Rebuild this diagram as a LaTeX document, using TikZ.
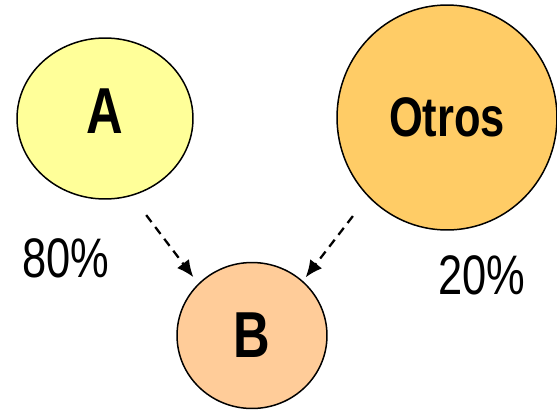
\documentclass[tikz,border=0pt]{standalone}
\usepackage{fontspec}
\setmainfont[FakeStretch=0.78]{Liberation Sans}
\usetikzlibrary{arrows.meta,shapes.geometric}
\definecolor{yellowA}{HTML}{FFFF99}
\definecolor{orangeO}{HTML}{FFCC66}
\definecolor{peachB}{HTML}{FFCC99}
\tikzset{
	blob/.style={ellipse, draw=black, line width=0.85pt, inner sep=0pt},
	flow/.style={line width=1.3pt, dash pattern=on 5pt off 3.5pt, -{Latex[length=0.34cm,width=0.3cm]}},
	big/.style={font=\fontsize{37}{40}\selectfont\bfseries},
	mid/.style={font=\fontsize{31.7}{34}\selectfont\bfseries},
	pct/.style={font=\fontsize{31.7}{34}\selectfont}
}

\begin{document}
\begin{tikzpicture}[x=0.02cm, y=-0.02cm]
		%%%%% START %%%%%
		\useasboundingbox (0, 0) rectangle (557, 409);
		
		\node[blob, big, fill=yellowA, minimum width=3.52cm, minimum height=3.22cm] (A) at (105, 118.5) {\raisebox{0.14cm}[\height][0pt]{A}};
		\node[blob, mid, fill=orangeO, minimum width=4.4cm, minimum height=4.5cm] (otros) at (447, 117.5) {Otros};
		\node[blob, big, fill=peachB, minimum width=3.0cm, minimum height=2.92cm] (B) at (252, 335.5) {B};
		
		\node[pct] (pA) at (65.5, 258) {80\%};
		\node[pct] (pO) at (481.5, 275) {20\%};
		
		\draw[flow, shorten <=0.48cm, shorten >=0.16cm] (A.-71.5) -- (B.136.7);
		\draw[flow, shorten <=0.49cm, shorten >=0.09cm] (otros.-135.4) -- (B.47);
		%%%%% END %%%%%
\end{tikzpicture}
\end{document}
